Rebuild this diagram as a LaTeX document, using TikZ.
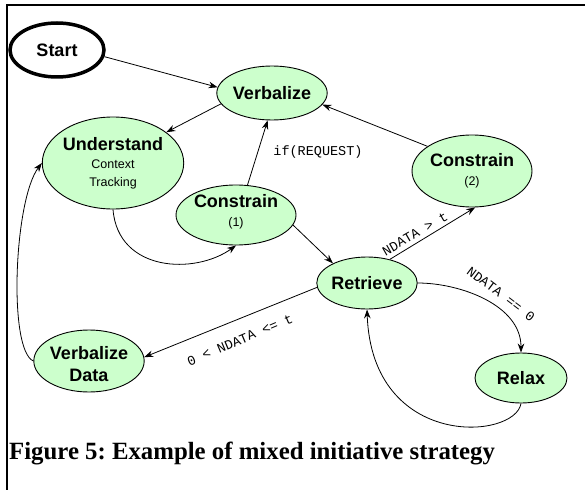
\documentclass[tikz,border=0pt]{standalone}
\usepackage{fontspec}
\setmainfont{Liberation Sans}
\newfontfamily\capfont{Liberation Serif}
\newfontfamily\monofont{Liberation Mono}
\usetikzlibrary{shapes.geometric,arrows.meta}
\definecolor{nodegreen}{RGB}{204,255,204}
\frenchspacing
\begin{document}
\begin{tikzpicture}[x=1pt,y=-1pt,
  state/.style={ellipse,draw=black,fill=nodegreen,line width=0.9pt,inner sep=0pt,align=center,
    font=\bfseries\fontsize{18}{21}\selectfont},
  arr/.style={-{Stealth[length=9pt,width=6.5pt]},line width=0.8pt},
  lab/.style={font=\monofont\fontsize{13.5}{15}\selectfont,inner sep=0pt}]
\useasboundingbox (0,0) rectangle (585,489);
\fill[white] (0,0) rectangle (585,489);
\draw[line width=2pt] (586,5) -- (7,5) -- (7,490);
% nodes
\node[state,line width=3.5pt,fill=white,minimum width=94pt,minimum height=54pt] (start) at (57,50) {Start};
\node[state,minimum width=92pt,minimum height=54pt] (verb) at (272,93) {Verbalize};
\node[state,minimum width=130pt,minimum height=92pt] (und) at (113,163)
  {Understand\\[-3pt]{\mdseries\fontsize{12.5}{15}\selectfont Context}\\[-3pt]{\mdseries\fontsize{12.5}{15}\selectfont Tracking}};
\node[state,minimum width=120pt,minimum height=60pt,text depth=10pt] (c1) at (236,215)
  {Constrain\\[-2pt]{\mdseries\fontsize{12.5}{15}\selectfont (1)}};
\node[state,minimum width=120pt,minimum height=72pt] (c2) at (472,171)
  {Constrain\\[-2pt]{\mdseries\fontsize{12.5}{15}\selectfont (2)}};
\node[state,minimum width=92pt,minimum height=52pt] (retr) at (367,283) {Retrieve};
\node[state,minimum width=106pt,minimum height=62pt,text height=42pt] (vd) at (89,361) {Verbalize\\[1pt]Data};
\node[state,minimum width=92pt,minimum height=50pt] (relax) at (521,378) {Relax};
% labels
\node[lab] (lreq) at (318,152) {if(REQUEST)};
\node[lab,rotate=30] (lgt) at (415,234) {NDATA > t};
\node[lab,rotate=-37] (leq) at (501,294) {NDATA == 0};
\node[lab,rotate=23] (lle) at (240,340) {0 < NDATA <= t};
% edges
\draw[arr] (start.-8) -- (verb.174);
\draw[arr] (verb.192) -- (und.30);
\draw[arr] (c1.69) -- (verb.261);
\draw[arr] (c2.151) -- (verb.-13);
\draw[arr] (c1.-10) -- (retr.150);
\draw[arr] (retr.46) -- (c2.-85);
\draw[arr] (retr.185) -- (vd.4);
\draw[arr] (retr.east) .. controls (460,283) and (521,305) .. (relax.north);
\draw[arr] (relax.south) .. controls (515,440) and (372,450) .. (retr.south);
\draw[arr] (und.south) .. controls (118,272) and (195,275) .. (c1.south);
\draw[arr] (vd.west) .. controls (8,350) and (14,200) .. (und.west);
% caption
\node[anchor=base west,inner sep=0pt,font=\capfont\bfseries\fontsize{24.8}{28}\selectfont] (cap) at (9,459)
  {Figure 5: Example of mixed initiative strategy};
\end{tikzpicture}
\end{document}
